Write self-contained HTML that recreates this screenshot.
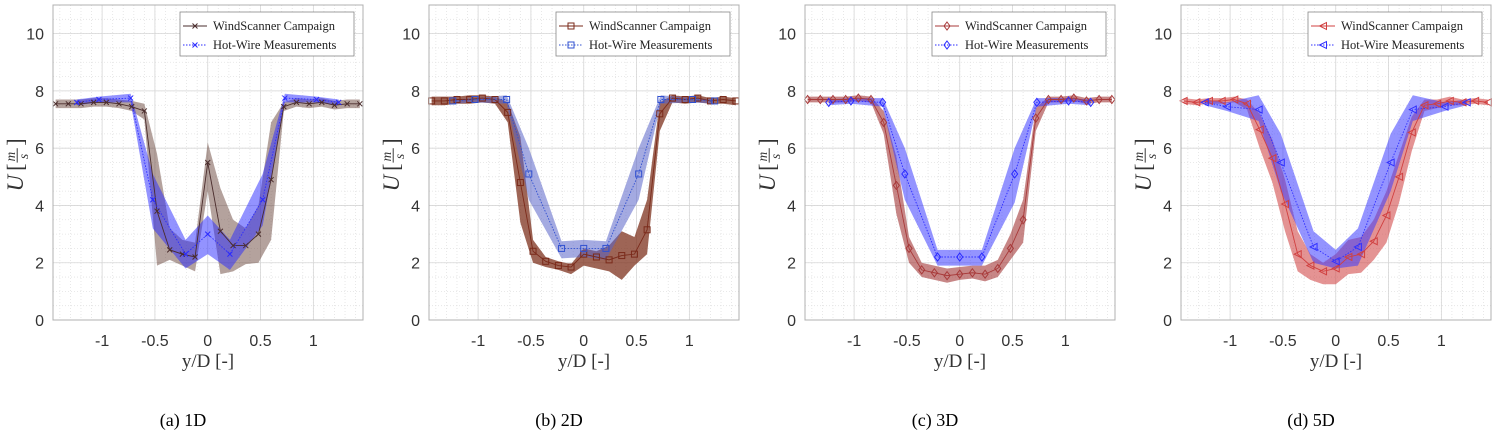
<!DOCTYPE html>
<html><head><meta charset="utf-8"><style>
body{margin:0;background:#fff;width:1495px;height:437px;overflow:hidden}
svg{display:block}
.cap{font-family:"Liberation Serif",serif;font-size:18px;fill:#000}
</style></head><body>
<svg id="fig" width="1495" height="437" xmlns="http://www.w3.org/2000/svg"></svg>
<script>
const wsX=[-1.44,-1.32,-1.2,-1.08,-0.96,-0.84,-0.72,-0.6,-0.48,-0.36,-0.24,-0.12,0,0.12,0.24,0.36,0.48,0.6,0.72,0.84,0.96,1.08,1.2,1.32,1.44];
const hwX=[-1.24,-1.03,-0.73,-0.52,-0.21,0,0.21,0.52,0.73,1.03,1.24];
const xTicks=[-1,-0.5,0,0.5,1];
const xTickLabels=["-1","-0.5","0","0.5","1"];
const yTicks=[0,2,4,6,8,10];
const yTickLabels=["0","2","4","6","8","10"];
const captions=["(a) 1D","(b) 2D","(c) 3D","(d) 5D"];
const seriesNames=["WindScanner Campaign","Hot-Wire Measurements"];

const wsMeanA=[7.55,7.55,7.55,7.6,7.6,7.55,7.45,7.3,3.8,2.45,2.3,2.2,5.5,3.1,2.6,2.6,3.0,4.9,7.45,7.6,7.55,7.6,7.5,7.55,7.55];
const wsHiA=[7.7,7.7,7.7,7.75,7.75,7.7,7.65,7.55,5.8,3.2,2.8,2.7,6.2,4.6,3.5,3.2,4.0,6.9,7.6,7.75,7.7,7.75,7.65,7.7,7.7];
const wsLoA=[7.4,7.4,7.4,7.45,7.45,7.4,7.3,7.0,1.9,2.1,1.9,1.7,4.5,1.6,1.7,1.95,2.0,2.8,7.3,7.45,7.4,7.45,7.35,7.4,7.4];
const hwMeanA=[7.6,7.7,7.75,4.2,2.3,3.0,2.3,4.2,7.75,7.7,7.6];
const hwHiA=[7.7,7.8,7.9,5.1,2.8,3.65,2.8,5.1,7.9,7.8,7.7];
const hwLoA=[7.5,7.6,7.6,3.2,1.8,2.3,1.75,3.3,7.6,7.6,7.5];

const wsMeanB=[7.65,7.65,7.7,7.7,7.75,7.7,7.25,4.8,2.4,2.05,1.9,1.85,2.3,2.2,2.1,2.25,2.3,3.15,7.2,7.75,7.7,7.75,7.65,7.7,7.65];
const wsHiB=[7.8,7.8,7.8,7.85,7.85,7.8,7.6,6.4,2.8,2.2,2.05,1.95,2.5,2.4,2.6,3.1,2.9,4.2,7.6,7.85,7.8,7.85,7.75,7.8,7.75];
const wsLoB=[7.5,7.5,7.55,7.55,7.6,7.55,6.9,3.4,2.0,1.85,1.75,1.6,1.9,1.8,1.7,1.4,1.9,2.3,6.6,7.6,7.55,7.6,7.55,7.55,7.5];
const hwMeanB=[7.65,7.7,7.7,5.1,2.5,2.5,2.5,5.1,7.7,7.7,7.65];
const hwHiB=[7.7,7.75,7.85,6.0,2.75,2.8,2.75,6.0,7.85,7.75,7.7];
const hwLoB=[7.55,7.6,7.55,4.2,2.15,2.2,2.1,4.2,7.55,7.6,7.55];

const wsMeanC=[7.7,7.7,7.7,7.7,7.75,7.7,6.9,4.7,2.5,1.75,1.65,1.55,1.6,1.65,1.6,1.8,2.5,3.5,7.05,7.7,7.7,7.75,7.65,7.7,7.7];
const wsHiC=[7.8,7.8,7.8,7.8,7.85,7.8,7.3,5.7,2.9,2.0,1.9,1.8,1.85,1.9,1.9,2.1,3.0,4.2,7.4,7.8,7.8,7.85,7.75,7.8,7.8];
const wsLoC=[7.6,7.6,7.6,7.6,7.65,7.6,6.5,3.7,2.0,1.5,1.4,1.3,1.4,1.45,1.35,1.5,2.1,2.7,6.6,7.6,7.6,7.65,7.55,7.6,7.6];
const hwMeanC=[7.6,7.65,7.6,5.1,2.2,2.2,2.2,5.1,7.6,7.65,7.6];
const hwHiC=[7.7,7.75,7.75,6.0,2.45,2.45,2.45,6.0,7.75,7.75,7.7];
const hwLoC=[7.5,7.55,7.45,4.2,1.9,1.9,1.9,4.1,7.45,7.55,7.5];

const wsMeanD=[7.65,7.6,7.65,7.65,7.7,7.55,6.65,5.65,4.05,2.3,1.9,1.7,1.8,2.2,2.3,2.75,3.65,5.0,6.55,7.5,7.55,7.65,7.6,7.65,7.6];
const wsHiD=[7.75,7.7,7.75,7.75,7.8,7.7,7.2,6.3,4.9,3.1,2.3,2.0,2.3,2.8,2.9,3.5,4.5,5.8,7.1,7.7,7.7,7.8,7.7,7.75,7.7];
const wsLoD=[7.55,7.5,7.55,7.55,7.6,7.35,6.0,4.8,3.1,1.7,1.4,1.25,1.25,1.6,1.65,2.1,2.7,4.1,5.9,7.3,7.4,7.5,7.5,7.55,7.5];
const hwMeanD=[7.6,7.45,7.35,5.5,2.55,2.05,2.55,5.5,7.35,7.45,7.6];
const hwHiD=[7.7,7.6,7.85,6.5,3.1,2.45,3.2,6.5,7.85,7.6,7.7];
const hwLoD=[7.5,7.3,6.95,4.5,2.0,1.8,1.9,4.5,6.95,7.3,7.5];

const NS="http://www.w3.org/2000/svg";
const svg=document.getElementById('fig');
function mk(tag,attrs,parent){const e=document.createElementNS(NS,tag);for(const k in attrs)e.setAttribute(k,attrs[k]);(parent||svg).appendChild(e);return e;}

const panels=[
 {l:53,ws:[wsMeanA,wsHiA,wsLoA],hw:[hwMeanA,hwHiA,hwLoA],wsC:"#4a2c2c",wsF:"rgba(105,70,60,0.5)",hwC:"#2a2aff",hwF:"rgba(40,40,255,0.5)",mk:"x"},
 {l:429,ws:[wsMeanB,wsHiB,wsLoB],hw:[hwMeanB,hwHiB,hwLoB],wsC:"#7a2a1a",wsF:"rgba(125,50,30,0.75)",hwC:"#3050d0",hwF:"rgba(90,100,200,0.55)",mk:"sq"},
 {l:805,ws:[wsMeanC,wsHiC,wsLoC],hw:[hwMeanC,hwHiC,hwLoC],wsC:"#a83a3a",wsF:"rgba(165,60,60,0.62)",hwC:"#2a2aff",hwF:"rgba(60,60,255,0.55)",mk:"di"},
 {l:1181,ws:[wsMeanD,wsHiD,wsLoD],hw:[hwMeanD,hwHiD,hwLoD],wsC:"#d04040",wsF:"rgba(210,75,75,0.6)",hwC:"#3030ff",hwF:"rgba(60,60,255,0.55)",mk:"tri"}
];
const W=310,TOP=5,BOT=320,XMIN=-1.465,XMAX=1.47,YMAX=11;

function marker(g,type,x,y,c){
 let e;
 if(type==="x"){e=mk('path',{d:`M${x-2.5},${y-2.5}L${x+2.5},${y+2.5}M${x-2.5},${y+2.5}L${x+2.5},${y-2.5}`,stroke:c,'stroke-width':1,fill:'none'},g);}
 else if(type==="sq"){e=mk('rect',{x:x-3,y:y-3,width:6,height:6,stroke:c,'stroke-width':1,fill:'none'},g);}
 else if(type==="di"){e=mk('path',{d:`M${x},${y-4}L${x+3},${y}L${x},${y+4}L${x-3},${y}Z`,stroke:c,'stroke-width':1,fill:'none'},g);}
 else {e=mk('path',{d:`M${x-3.5},${y}L${x+3.5},${y-3.5}L${x+3.5},${y+3.5}Z`,stroke:c,'stroke-width':1,fill:'none'},g);}
 
 
}

panels.forEach((p,pi)=>{
 const sx=v=>p.l+(v-XMIN)/(XMAX-XMIN)*W;
 const sy=v=>BOT-v/YMAX*(BOT-TOP);
 const g=mk('g',{});
 
 
 for(let v=-1.4;v<=1.41;v+=0.1){const x=sx(v);mk('line',{x1:x,x2:x,y1:TOP,y2:BOT,stroke:'#e2e2e2','stroke-width':0.8,'stroke-dasharray':'1,2'},g);}
 for(let v=0.5;v<YMAX;v+=0.5){const y=sy(v);mk('line',{x1:p.l,x2:p.l+W,y1:y,y2:y,stroke:'#e2e2e2','stroke-width':0.8,'stroke-dasharray':'1,2'},g);}
 xTicks.forEach(v=>{const x=sx(v);mk('line',{x1:x,x2:x,y1:TOP,y2:BOT,stroke:'#d6d6d6','stroke-width':0.8},g);});
 yTicks.forEach(v=>{const y=sy(v);mk('line',{x1:p.l,x2:p.l+W,y1:y,y2:y,stroke:'#d6d6d6','stroke-width':0.8},g);});
 const band=(xs,hi,lo,fill,name)=>{
  let d='M'+xs.map((x,i)=>sx(x)+','+sy(hi[i])).join('L');
  d+='L'+xs.map((x,i)=>sx(x)+','+sy(lo[i])).reverse().join('L')+'Z';
  const e=mk('path',{d:d,fill:fill,stroke:'none'},g);
  
  
 };
 band(wsX,p.ws[1],p.ws[2],p.wsF,'windscanner-band');
 band(hwX,p.hw[1],p.hw[2],p.hwF,'hotwire-band');
 const ln1=mk('polyline',{points:wsX.map((x,i)=>sx(x)+','+sy(p.ws[0][i])).join(' '),fill:'none',stroke:p.wsC,'stroke-width':0.9},g);
 
 
 const ln2=mk('polyline',{points:hwX.map((x,i)=>sx(x)+','+sy(p.hw[0][i])).join(' '),fill:'none',stroke:p.hwC,'stroke-width':0.9,'stroke-dasharray':'1.5,1.5'},g);
 
 
 wsX.forEach((x,i)=>marker(g,p.mk,sx(x),sy(p.ws[0][i]),p.wsC));
 hwX.forEach((x,i)=>marker(g,p.mk,sx(x),sy(p.hw[0][i]),p.hwC));
 mk('rect',{x:p.l,y:TOP,width:W,height:BOT-TOP,fill:'none',stroke:'#b0b0b0','stroke-width':1},g);
 xTicks.forEach((v,i)=>{const t=mk('text',{x:sx(v),y:BOT+26,'text-anchor':'middle','font-family':'Liberation Sans, sans-serif','font-size':16,fill:'#333'},g);t.textContent=xTickLabels[i];
  });
 yTicks.forEach((v,i)=>{const t=mk('text',{x:p.l-9,y:sy(v)+6,'text-anchor':'end','font-family':'Liberation Sans, sans-serif','font-size':16,fill:'#333'},g);t.textContent=yTickLabels[i];
  });
 const xl=mk('text',{x:p.l+W/2,y:BOT+47,'text-anchor':'middle','font-family':'Liberation Serif, serif','font-size':19,fill:'#333'},g);
 xl.textContent='y/D [-]';
 
 const yl=mk('g',{transform:`translate(${p.l-37},165) rotate(-90) scale(1.2)`},g);
 
 const yt=mk('text',{x:-22,y:6,'font-family':'Liberation Serif, serif','font-size':19,'font-style':'italic',fill:'#333'},yl);yt.textContent='U';
 const b1=mk('text',{x:-5,y:6,'font-family':'Liberation Serif, serif','font-size':19,fill:'#333'},yl);b1.textContent='[';
 const fm=mk('text',{x:3,y:-1,'font-family':'Liberation Serif, serif','font-size':11,'font-style':'italic',fill:'#333'},yl);fm.textContent='m';
 mk('line',{x1:2,x2:14,y1:1,y2:1,stroke:'#333','stroke-width':0.8},yl);
 const fs=mk('text',{x:5,y:10,'font-family':'Liberation Serif, serif','font-size':11,'font-style':'italic',fill:'#333'},yl);fs.textContent='s';
 const b2=mk('text',{x:16,y:6,'font-family':'Liberation Serif, serif','font-size':19,fill:'#333'},yl);b2.textContent=']';
 const lg=mk('g',{},g);
 
 const lx=p.l+127,ly=12;
 mk('rect',{x:lx,y:ly,width:174,height:44,fill:'#fff',stroke:'#888','stroke-width':0.8},lg);
 [[p.wsC,null],[p.hwC,'1.5,1.5']].forEach((c,i)=>{
  const yy=ly+14+i*19;
  const le=mk('g',{},lg);
  
  const at={x1:lx+3,x2:lx+27,y1:yy,y2:yy,stroke:c[0],'stroke-width':1};
  if(c[1])at['stroke-dasharray']=c[1];
  mk('line',at,le);
  marker(le,p.mk,lx+15,yy,c[0]);
  const t=mk('text',{x:lx+33,y:yy+4,'font-family':'Liberation Serif, serif','font-size':12.5,fill:'#222'},le);
  t.textContent=seriesNames[i];
 });
 const cp=mk('text',{x:p.l+130,y:426,'text-anchor':'middle',class:'cap'},svg);
 cp.textContent=captions[pi];
 
});
</script>
</body></html>
